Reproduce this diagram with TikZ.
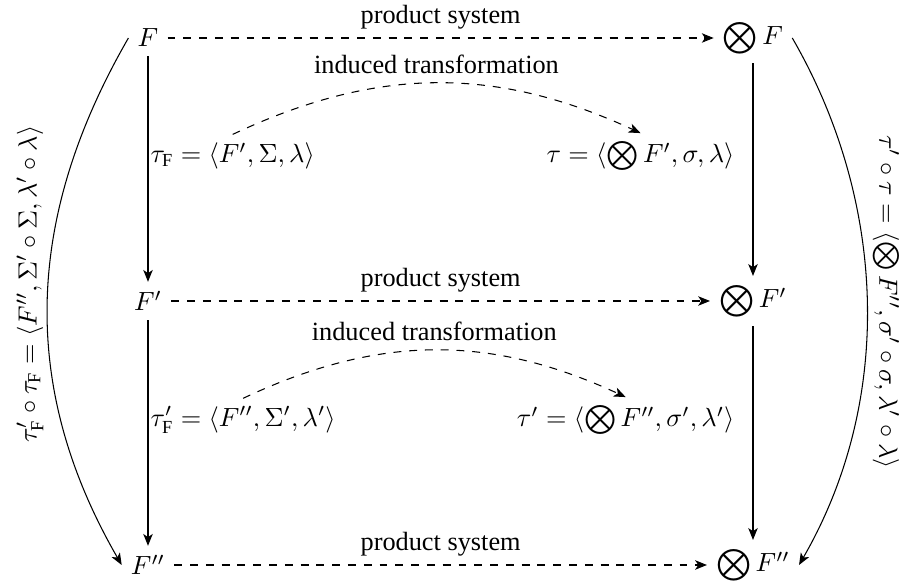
\documentclass[tikz,border=0pt]{standalone}
\usepackage{fontspec}
\usepackage{graphicx}
\setmainfont{Liberation Serif}
\usetikzlibrary{arrows.meta}
\newcommand{\myox}[1]{\mathop{\vcenter{\hbox{\scalebox{#1}{$\bigotimes$}}}}}
\begin{document}
\begin{tikzpicture}[x=0.38pt,y=0.38pt,
  arr/.style={-{Stealth[length=4.5pt,width=3.6pt,inset=1.2pt]}, line width=0.4pt},
  darr/.style={arr, dashed},
  obj/.style={inner sep=3.33pt},
  lab/.style={inner xsep=0pt, inner ysep=3pt},
  comp/.style={inner sep=0pt},
  font=\fontsize{10}{12}\selectfont]
\useasboundingbox (0,0) rectangle (908,-586);
% objects
\node[obj] (F)   at (148,-38)  {$F$};
\node[obj] (PF)  at (753,-38)  {$\myox{1.2} F$};
\node[obj] (Fp)  at (148,-301) {$F'$};
\node[obj] (PFp) at (753,-301) {$\myox{1.2} F'$};
\node[obj] (Fpp) at (148,-565) {$F''$};
\node[obj] (PFpp) at (753,-565) {$\myox{1.2} F''$};
% transformation labels
\node[lab, anchor=west] (L1) at (150,-156) {$\tau_{\mathrm{F}} = \langle F', \Sigma, \lambda\rangle$};
\node[lab, anchor=east] (L2) at (735,-156) {$\tau = \langle \myox{1.1} F', \sigma, \lambda\rangle$};
\node[lab, anchor=west] (L3) at (150,-420) {$\tau'_{\mathrm{F}} = \langle F'', \Sigma', \lambda'\rangle$};
\node[lab, anchor=east] (L4) at (735,-420) {$\tau' = \langle \myox{1.1} F'', \sigma', \lambda'\rangle$};
% composition labels
\node[comp, rotate=90] (C1) at (30,-284) {$\tau'_{\mathrm{F}}\circ\tau_{\mathrm{F}} = \langle F'', \Sigma'\circ\Sigma, \lambda'\circ\lambda\rangle$};
\node[comp, rotate=-90] (C2) at (886,-302) {$\tau'\circ\tau = \langle \bigotimes F'', \sigma'\circ\sigma, \lambda'\circ\lambda\rangle$};
% product system arrows
\draw[darr] (F) -- node[above] {product system} (PF);
\draw[darr] (Fp) -- node[above] {product system} (PFp);
\draw[darr] (Fpp) -- node[above] {product system} (PFpp);
% vertical arrows
\draw[arr] (F) -- (Fp);
\draw[arr] (Fp) -- (Fpp);
\draw[arr] (PF) -- (PFp);
\draw[arr] (PFp) -- (PFpp);
% induced transformations
\draw[darr] (L1.north) to[bend left=25] node[above] {induced transformation} (L2.north);
\draw[darr] (L3.north) to[bend left=25] node[above] {induced transformation} (L4.north);
% compositions
\draw[arr] (F.west) to[out=-120,in=120,looseness=1] (Fpp.west);
\draw[arr] (PF.east) to[out=-60,in=60,looseness=0.92] (PFpp.east);
\end{tikzpicture}
\end{document}
